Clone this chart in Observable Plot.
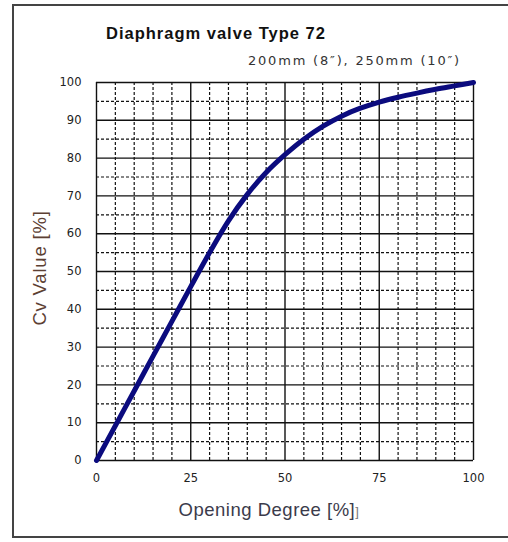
<!DOCTYPE html>
<html><head><meta charset="utf-8">
<script src="https://cdn.jsdelivr.net/npm/d3@7"></script>
<script src="https://cdn.jsdelivr.net/npm/@observablehq/plot@0.6"></script>
<style>
body{margin:0;background:#fff;}
#wrap{position:relative;width:508px;height:542px;overflow:hidden;font-family:"Liberation Sans",Arial,sans-serif;}
#frame{position:absolute;left:12px;top:4px;width:600px;height:530px;border:2px solid #444;border-right:none;}
#chart{position:absolute;left:0;top:0;}
.t{position:absolute;white-space:nowrap;}
#title{left:106px;top:24px;font-size:16.5px;font-weight:bold;color:#111;letter-spacing:1px;}
#sub{right:47px;top:53px;font-family:"DejaVu Sans",sans-serif;font-size:13px;color:#333;letter-spacing:1.8px;}
#xl{left:0;width:538px;text-align:center;top:499px;font-size:18.5px;color:#3b3b4b;letter-spacing:0.5px;}
#yl{left:40px;top:268px;font-size:18.5px;color:#5c4033;letter-spacing:0.8px;transform:translate(-50%,-50%) rotate(-90deg);}
</style></head>
<body><div id="wrap">
<div id="frame"></div>
<div id="chart"></div>
<div class="t" id="title">Diaphragm valve Type 72</div>
<div class="t" id="sub">200mm (8″), 250mm (10″)</div>
<div class="t" id="xl">Opening Degree [%]<span style="font-size:13px;color:#777">]</span></div>
<div class="t" id="yl">Cv Value [%]</div>
</div>
<script>
const opening = [0,5,10,15,20,25,30,35,40,45,50,55,60,65,70,75,80,85,90,95,100];
const cvValue = [0,9.2,18.4,27.6,36.8,46.0,55.0,63.4,70.4,76.2,80.9,85.0,88.4,91.1,93.2,94.8,96.1,97.2,98.2,99.1,100];
const xMajor = [0,25,50,75,100];
const xMinor = [5,10,15,20,30,35,40,45,55,60,65,70,80,85,90,95];
const yMajor = [0,10,20,30,40,50,60,70,80,90,100];
const yMinor = [5,15,25,35,45,55,65,75,85,95];

const data = opening.map((x,i)=>({x, y: cvValue[i]}));

const plot = Plot.plot({
  width: 508, height: 542,
  marginLeft: 96, marginRight: 35, marginTop: 82, marginBottom: 82,
  style: {fontFamily: "'DejaVu Sans', sans-serif", fontSize: "11.5px", color: "#222", background: "transparent"},
  x: {domain: [0,100]},
  y: {domain: [0,100]},
  marks: [
    Plot.ruleX(xMinor, {stroke: "#111", strokeWidth: 1.2, strokeDasharray: "3,2"}),
    Plot.ruleY(yMinor, {stroke: "#111", strokeWidth: 1.2, strokeDasharray: "3,2"}),
    Plot.ruleX(xMajor, {stroke: "#111", strokeWidth: 1.4}),
    Plot.ruleY(yMajor, {stroke: "#111", strokeWidth: 1.4}),
    Plot.axisX({ticks: xMajor, tickSize: 0, tickPadding: 13, label: null}),
    Plot.axisY({ticks: yMajor, tickSize: 0, tickPadding: 15, label: null}),
    Plot.line(data, {x: "x", y: "y", stroke: "#0b0b7e", strokeWidth: 5, curve: "catmull-rom"})
  ]
});
document.getElementById("chart").appendChild(plot);
</script>
</body></html>
